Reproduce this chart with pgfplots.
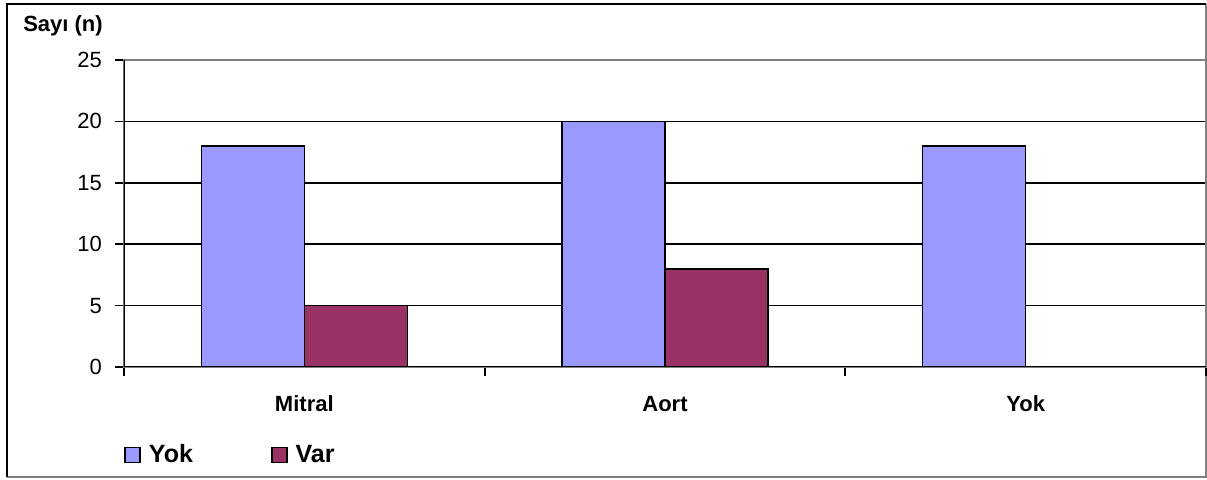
\documentclass[border=0pt]{standalone}
\usepackage{fontspec}
\setmainfont{Liberation Sans}
\usepackage{pgfplots}
\pgfplotsset{compat=1.18}
\definecolor{yokc}{HTML}{9999FF}
\definecolor{varc}{HTML}{993366}
\definecolor{bgray}{HTML}{808080}
\begin{document}
\begin{tikzpicture}
\path[use as bounding box] (0pt,0pt) rectangle (603.5pt,240pt);
\draw[bgray, line width=0.8pt] (3.5pt,1.5pt) -- (603pt,1.5pt) -- (603pt,238pt);
\draw[black, line width=1.1pt] (3.5pt,1.5pt) -- (3.5pt,238pt) -- (603pt,238pt);
\begin{axis}[
  at={(62pt,56.5pt)}, anchor=south west,
  scale only axis, width=541pt, height=153.5pt,
  ybar=0pt, bar width=51.5pt,
  xmin=-0.5, xmax=2.5, ymin=0, ymax=25,
  xtick={-0.5,0.5,1.5,2.5}, xticklabels={},
  extra x ticks={0,1,2}, extra x tick labels={Mitral,Aort,Yok},
  extra x tick style={major tick length=0pt, xtick style={draw=none}, grid=none,
    xticklabel style={font=\bfseries\fontsize{11}{13}\selectfont, yshift=-11pt}},
  ytick={0,5,10,15,20,25},
  tick align=outside,
  major tick length=4.5pt,
  xtick style={black, line width=1pt},
  ytick style={black, line width=0.8pt},
  ymajorgrids, grid style={black, line width=0.8pt},
  axis line style={bgray, line width=0.8pt},
  tick pos=left,
  /pgf/number format/assume math mode=true,
  yticklabel style={font=\fontsize{11}{13}\selectfont, xshift=-3pt},
  ylabel={Sayı (n)},
  ylabel style={rotate=-90, at={(rel axis cs:0,1)}, anchor=center, xshift=-30.5pt, yshift=17pt, font=\bfseries\fontsize{11}{13}\selectfont},
  legend style={draw=none, fill=none, inner sep=0pt, at={([xshift=0pt,yshift=-44pt]rel axis cs:0,0)}, anchor=west,
    font=\bfseries\fontsize{12.5}{14}\selectfont, legend columns=2,
    /tikz/every odd column/.append style={column sep=2pt},
    /tikz/every even column/.append style={column sep=37pt}},
  legend image code/.code={\draw[#1, line width=0.8pt, draw=black] (0pt,-3.75pt) rectangle (7.5pt,3.75pt);},
]
\addplot[fill=yokc, draw=black, line width=0.8pt] coordinates {(0,18) (1,20) (2,18)};
\addplot[fill=varc, draw=black, line width=0.8pt] coordinates {(0,5) (1,8)};
\legend{Yok,Var}
\draw[black, line width=1pt] (rel axis cs:0,0) -- (rel axis cs:1,0);
\draw[black, line width=1pt] (rel axis cs:0,0) -- (rel axis cs:0,1);
\end{axis}
\end{tikzpicture}
\end{document}
